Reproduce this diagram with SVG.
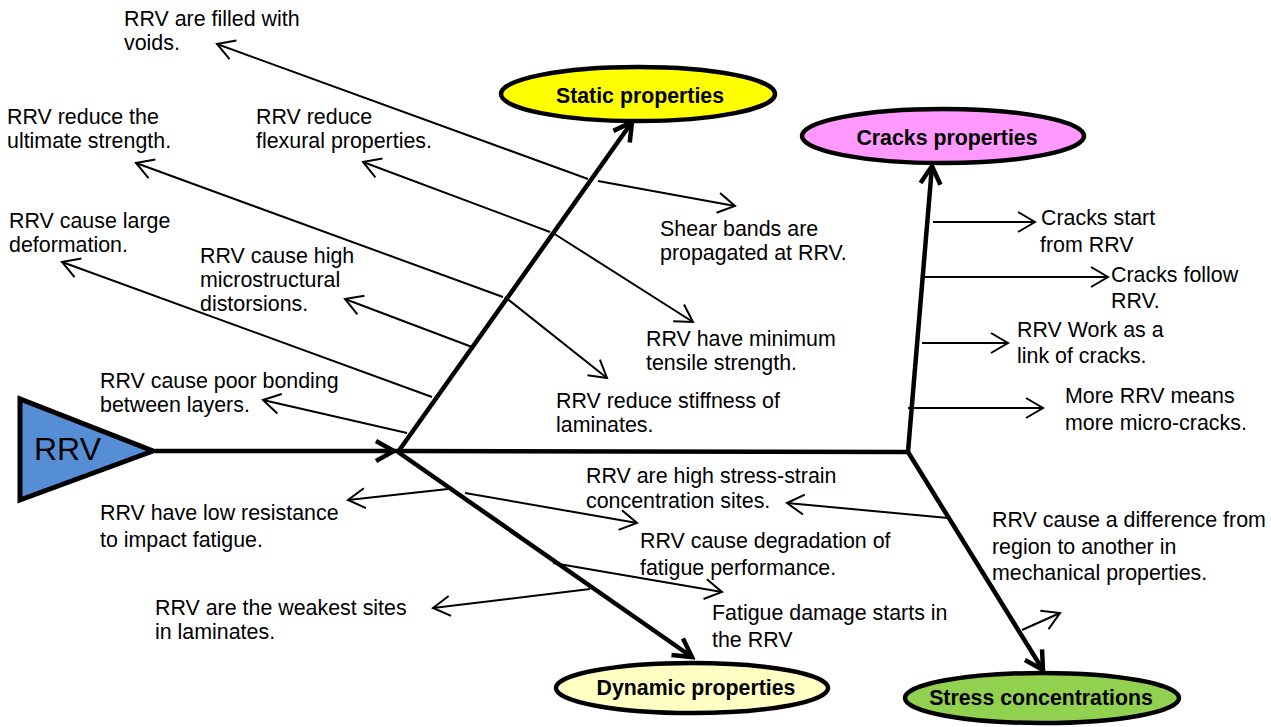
<svg xmlns="http://www.w3.org/2000/svg" width="1271" height="727" viewBox="0 0 1271 727">
<style>
text{font-family:"Liberation Sans",Arial,sans-serif;fill:#000}
.t{font-size:21.4px}
.h{font-size:21.3px;font-weight:bold;text-anchor:middle}
.thick{stroke:#000;stroke-width:4.5;fill:none}
.thin{stroke:#000;stroke-width:2;fill:none;marker-end:url(#sm)}
.ell{stroke:#000;stroke-width:4.5}
</style>
<defs>
<marker id="bg" markerUnits="userSpaceOnUse" viewBox="-22 -14 26 28" markerWidth="26" markerHeight="28" refX="0" refY="0" orient="auto">
<path d="M-18,-10 L0,0 L-18,10" fill="none" stroke="#000" stroke-width="4.5"/>
</marker>
<marker id="sm" markerUnits="userSpaceOnUse" viewBox="-20 -13 23 26" markerWidth="23" markerHeight="26" refX="0" refY="0" orient="auto">
<path d="M-17,-10 L0,0 L-17,10" fill="none" stroke="#000" stroke-width="2"/>
</marker>
</defs>

<g id="connectors">
<line class="thick" x1="155" y1="451" x2="394" y2="451" marker-end="url(#bg)"/>
<line class="thick" x1="394" y1="451" x2="908" y2="452"/>
<line class="thick" x1="398" y1="452" x2="632" y2="122" marker-end="url(#bg)"/>
<line class="thick" x1="398" y1="452" x2="692" y2="657" marker-end="url(#bg)"/>
<line class="thick" x1="908" y1="452" x2="932" y2="166" marker-end="url(#bg)"/>
<line class="thick" x1="908" y1="452" x2="1043" y2="670" marker-end="url(#bg)"/>

<line class="thin" x1="588" y1="179" x2="217" y2="44"/>
<line class="thin" x1="550" y1="232" x2="363" y2="162"/>
<line class="thin" x1="503" y1="297" x2="136" y2="163"/>
<line class="thin" x1="472" y1="347" x2="345" y2="299"/>
<line class="thin" x1="432" y1="397" x2="62" y2="262"/>
<line class="thin" x1="407" y1="433" x2="263" y2="400"/>
<line class="thin" x1="598" y1="181" x2="735" y2="206"/>
<line class="thin" x1="553" y1="233" x2="693" y2="322"/>
<line class="thin" x1="505" y1="297" x2="607" y2="378"/>

<line class="thin" x1="448" y1="489" x2="348" y2="500"/>
<line class="thin" x1="465" y1="493" x2="637" y2="523"/>
<line class="thin" x1="553" y1="563" x2="722" y2="592"/>
<line class="thin" x1="590" y1="589" x2="433" y2="608"/>

<line class="thin" x1="948" y1="518" x2="787" y2="503"/>
<line class="thin" x1="1022" y1="630" x2="1060" y2="613"/>

<line class="thin" x1="933" y1="222" x2="1035" y2="222"/>
<line class="thin" x1="925" y1="277" x2="1108" y2="277"/>
<line class="thin" x1="922" y1="343" x2="1008" y2="343"/>
<line class="thin" x1="908" y1="408" x2="1043" y2="408"/>
</g>

<g id="rrv">
<polygon points="20,399 20,500 153,451" fill="#558ED5" stroke="#000" stroke-width="5" stroke-linejoin="miter"/>
<text x="34" y="460" style="font-size:32px">RRV</text>
</g>

<g id="static">
<ellipse class="ell" cx="638" cy="94" rx="137" ry="27" fill="#FFFF00"/>
<text class="h" x="640" y="103">Static properties</text>
</g>
<g id="cracks">
<ellipse class="ell" cx="943" cy="136" rx="141" ry="27" fill="#FF99FF"/>
<text class="h" x="947" y="145">Cracks properties</text>
</g>
<g id="dynamic">
<ellipse class="ell" cx="692" cy="688" rx="136" ry="25" fill="#FFFFC4"/>
<text class="h" x="696" y="695">Dynamic properties</text>
</g>
<g id="stress">
<ellipse class="ell" cx="1042" cy="698" rx="137" ry="25" fill="#92D050"/>
<text class="h" x="1041" y="705">Stress concentrations</text>
</g>

<g id="labels">
<text class="t" x="124" y="26">RRV are filled with<tspan x="124" y="50">voids.</tspan></text>
<text class="t" x="7" y="124">RRV reduce the<tspan x="7" y="148">ultimate strength.</tspan></text>
<text class="t" x="256" y="124">RRV reduce<tspan x="256" y="148">flexural properties.</tspan></text>
<text class="t" x="9" y="228">RRV cause large<tspan x="9" y="252">deformation.</tspan></text>
<text class="t" x="200" y="263">RRV cause high<tspan x="200" y="287">microstructural</tspan><tspan x="200" y="311">distorsions.</tspan></text>
<text class="t" x="100" y="388">RRV cause poor bonding<tspan x="100" y="412">between layers.</tspan></text>
<text class="t" x="660" y="236">Shear bands are<tspan x="660" y="260">propagated at RRV.</tspan></text>
<text class="t" x="646" y="346">RRV have minimum<tspan x="646" y="370">tensile strength.</tspan></text>
<text class="t" x="556" y="408">RRV reduce stiffness of<tspan x="556" y="432">laminates.</tspan></text>
<text class="t" x="1041" y="225">Cracks start<tspan x="1040" y="252">from RRV</tspan></text>
<text class="t" x="1111" y="282">Cracks follow<tspan x="1111" y="308">RRV.</tspan></text>
<text class="t" x="1017" y="337">RRV Work as a<tspan x="1017" y="363">link of cracks.</tspan></text>
<text class="t" x="1065" y="403">More RRV means<tspan x="1065" y="430">more micro-cracks.</tspan></text>
<text class="t" x="586" y="483">RRV are high stress-strain<tspan x="586" y="508">concentration sites.</tspan></text>
<text class="t" x="640" y="548">RRV cause degradation of<tspan x="640" y="575">fatigue performance.</tspan></text>
<text class="t" x="712" y="620">Fatigue damage starts in<tspan x="712" y="647">the RRV</tspan></text>
<text class="t" x="100" y="520">RRV have low resistance<tspan x="100" y="547">to impact fatigue.</tspan></text>
<text class="t" x="155" y="615">RRV are the weakest sites<tspan x="155" y="639">in laminates.</tspan></text>
<text class="t" x="992" y="527">RRV cause a difference from<tspan x="992" y="554">region to another in</tspan><tspan x="992" y="580">mechanical properties.</tspan></text>
</g>
</svg>
